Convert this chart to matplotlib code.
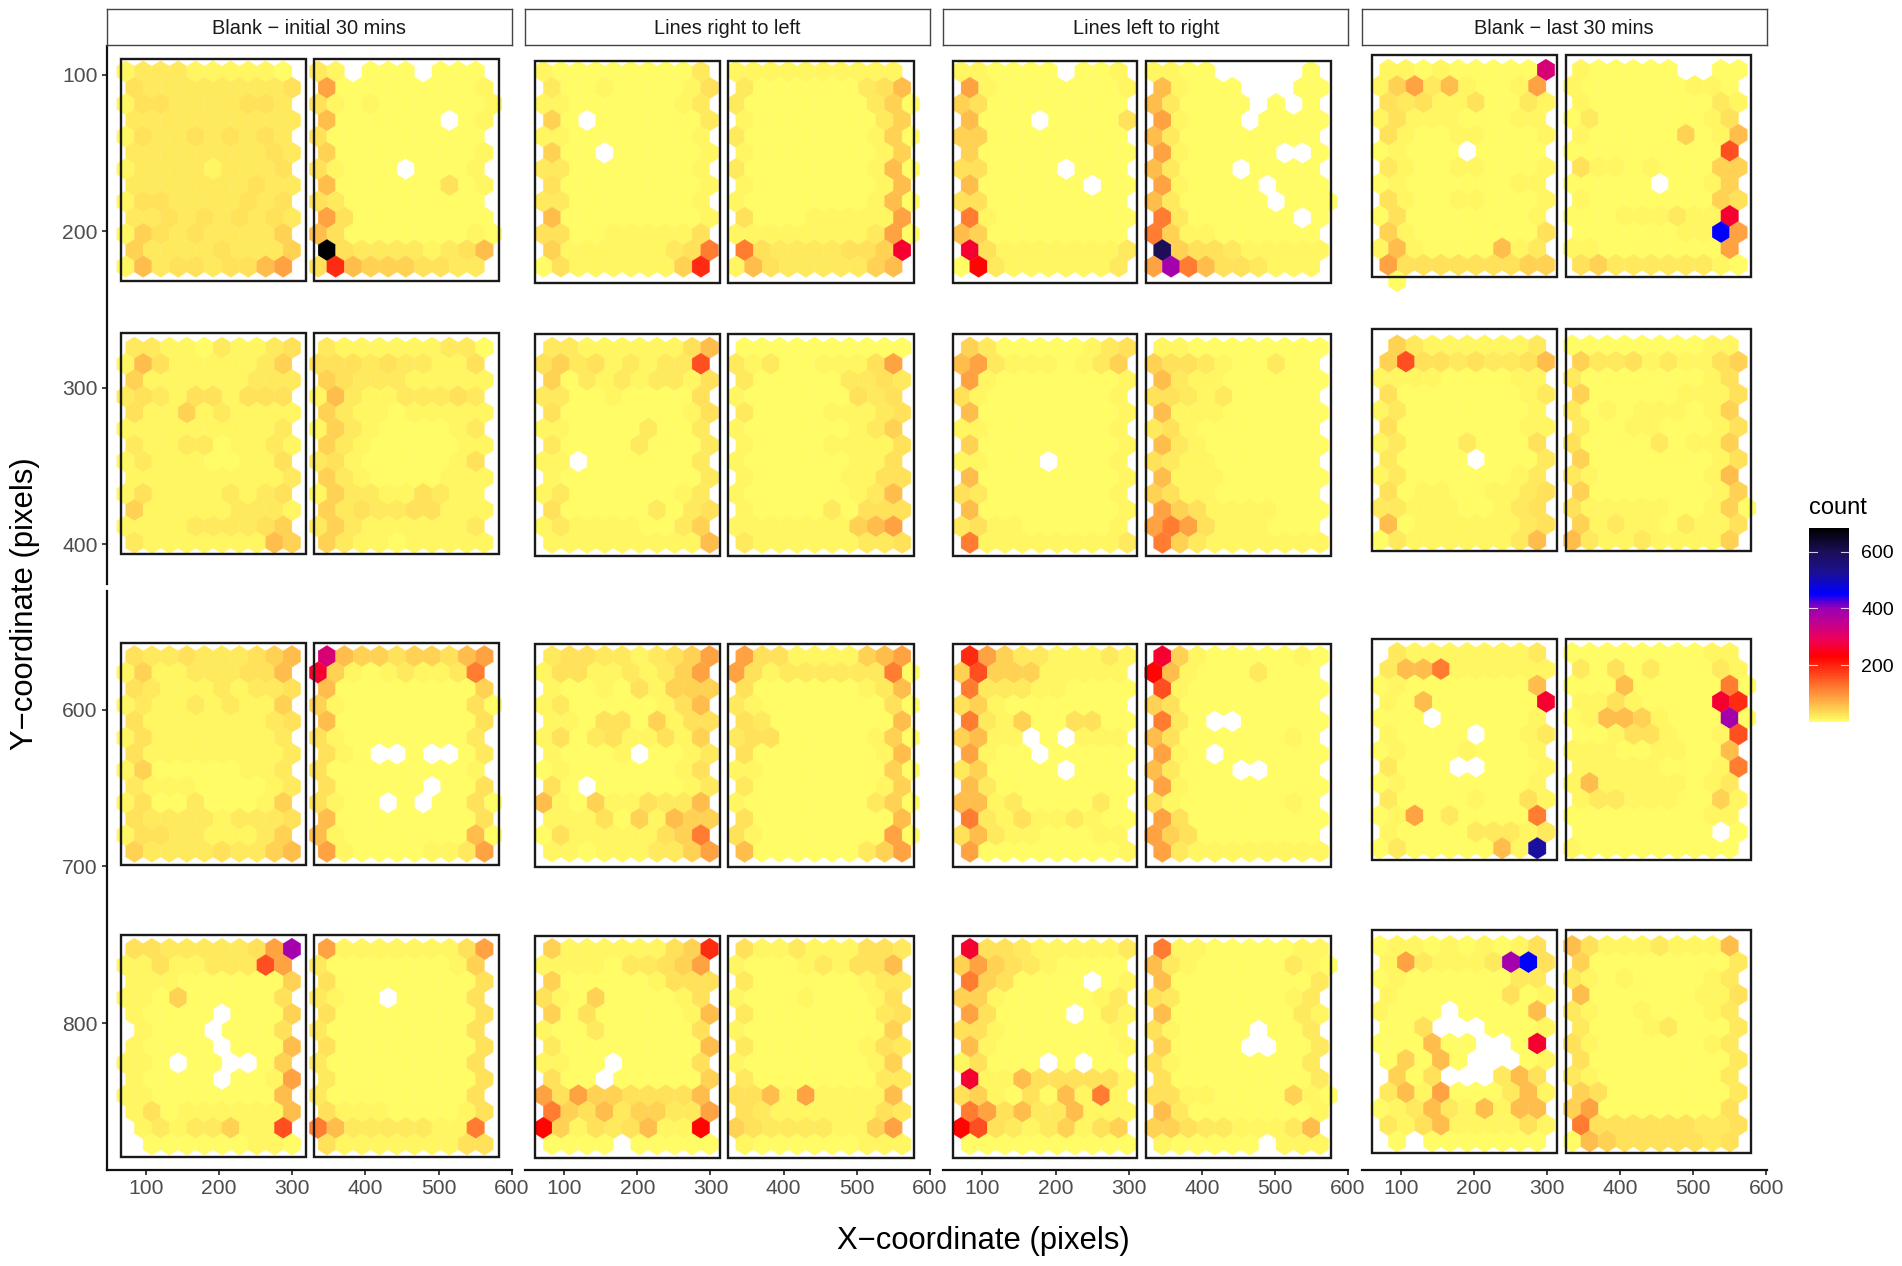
from __future__ import annotations

import matplotlib

matplotlib.use("Agg")
import matplotlib.pyplot as plt
import numpy as np
from matplotlib.cm import ScalarMappable
from matplotlib.collections import PolyCollection
from matplotlib.colors import LinearSegmentedColormap, Normalize
from matplotlib.patches import Rectangle

plt.rcParams["font.family"] = ["Liberation Sans", "DejaVu Sans"]
plt.rcParams["axes.unicode_minus"] = True

FACETS = ["Blank \u2212 initial 30 mins", "Lines right to left", "Lines left to right", "Blank \u2212 last 30 mins"]

# one character per hex cell; "." means no hex
LEVEL_CHARS = "0123456789abcdefgih"
LEVEL_COUNTS = [5, 10, 19, 29, 42, 60, 85, 118, 160, 190, 225, 262, 320, 385, 425, 453, 520, 600, 684]

# initial 30 mins
I1L = ["1222111110.", "3222222223.", "1332222332.", "2222222222.", "1322323232.", "2222222232.", "1222212223.",
       "2222222322.", "1332222323.", "2232323232.", "1432322224.", "4222232224.", "1523323356."]
I1R = ["21.000.000.", "6000000001.", "31010000001", "5000000.01.", "3000000000.", "4000000001.", "31000.0001.",
       "5000000301.", "3200000000.", "6300000000.", "53000000010", "h322221235.", "3954443322."]
I2L = ["2211021123.", "1531111124.", "4111111222.", "2321331333.", "3114121111.", "1111111112.", "2112201121.",
       "1211100113.", "1111111112.", "1311112123.", "4111112221.", "1111222234.", "2111111154."]
I2R = ["2111111220.", "3332322113.", "4322211111.", "1521122232.", "4211011111.", "1421000012.", "4210000011.",
       "2310000013.", "4210000111.", "1422113211.", "4232233111.", "2421111112.", "4211011111."]
I3L = ["3223222345.", "1411222335.", "3211121223.", "1211212114.", "3111111123.", "1311111112.", "3111111112.",
       "1400000112.", "2111000012.", "1300200014.", "3222212223.", "1332211124.", "4222232245."]
I3R = ["c544344356.", "b410121127.", "5000000004.", "41000000030", "5000000003.", "3100000002.", "310..0..02.",
       "3000000001.", "300000.003.", "3100.0.0030", "5000000003.", "51000000050", "6100001126."]
I4L = ["332222236d.", "1131122286.", "1110000004.", "1104000003.", "10000.0004.", ".1000.0003.", "10000.0005.",
       "110.00..04.", "10000.0016.", "1100000005.", "1301111115.", ".121224118.", ".000000110."]
I4R = ["6111111136.", "2000000014.", "3000000003.", "2100.00003.", "3000000003.", "2000000003.", "3000000003.",
       "2000000003.", "2000000003.", "2000000003.", "3111000013.", "7522222117.", "3111111133."]

# lines right to left
R1L = ["1000000002.", "2001000013.", "1100000012.", "40.0000002.", "1100000001.", "400.000001.", "2200000001.",
       "3000000001.", "2200000001.", "5000000001.", "3300111113.", "4111111237.", "0311111149."]
R1R = ["1111111111.", "2000000235.", "20000000240", "1000000024.", "20000000140", "1000000014.", "20000000150",
       "1000000015.", "10000000150", "3000111116.", "11111111260", "732222334b.", "1532222245."]
R2L = ["2211111135.", "3423121228.", "4021212213.", "2200100003.", "3000000013.", "1100002002.", "2000020002.",
       "11.0000002.", "1000000002.", "1200000012.", "3000002023.", "1211110024.", "1111111115."]
R2R = ["0000000000.", "2120011136.", "2000002232.", "1000000323.", "2000011123.", "1000000124.", "1000011113.",
       "1000000113.", "1000001133.", "1000000125.", "1000020333.", "1111111456.", "2111111223."]
R3L = ["2332212346.", "1331121246.", "1001031444.", "1200000135.", "1103304133.", "1302311314.", "10001.0012.",
       "0100000013.", "30.0000012.", "5104113225.", "1113041544.", "0311111347.", "1101112246."]
R3R = ["6331111456.", "63122222270", "3000000125.", "21000000030", "3200000005.", "23300000140", "3000000015.",
       "11000000040", "2000000014.", "10000000240", "3000000005.", "31000000060", "5000000246."]
R4L = ["4111111349.", "1111022346.", "4000001333.", "3104000013.", "4030000015.", "1002000003.", "2000000005.",
       "1100.00003.", "300.000004.", "6364433335.", "7435244226.", "a41323511a.", "0000.00000."]
R4R = ["3112111332.", "1000121335.", "2000000122.", "1000100013.", "2000000023.", "1000000004.", "2000000132.",
       "1000000014.", "2000000022.", "3351611115.", "3211111132.", "4322221146.", "1000000111."]

# lines left to right
L1L = ["110000.001.", "6100000001.", "4300000000.", "5000.00003.", "4400000000.", "4000000000.", "330000.000.",
       "5000000.00.", "3300000000.", "7100000000.", "5400000000.", "b311111112.", "0a21111112."]
L1R = ["1100.....0.", "51000...00.", "520000.0.0.", "61000.0000.", "5200000000.", "6100000..0.", "52000.0000.",
       "610000.000.", "5200000.000", "72000000.0.", "7411000000.", "i433211111.", "6d75332111."]
L2L = ["4200000123.", "5621110124.", "6100000001.", "3100000001.", "5000000001.", "1100000001.", "4000000001.",
       "11000.0001.", "5000000001.", "3200000001.", "5000000001.", "2311000001.", "7111111112."]
L2R = ["1100000000.", "4332100200.", "5211000000.", "3321200000.", "5111000000.", "2310000000.", "5210000000.",
       "3211000000.", "5111000000.", "4311000000.", "6431111000.", "6763111000.", "7421111111."]
L3L = ["9642211121.", "4844411111.", "7222110000.", "3410000000.", "7214003300.", "4511.0.111.", "6100.00000.",
       "240000.000.", "5200000000.", "5512000020.", "7213112100.", "3521100011.", "6000000001."]
L3R = ["b410000010.", "a510002000.", "8100000000.", "4300000000.", "720..00000.", "5300000010.", "610.000000.",
       "52000..000.", "6100000000.", "3100000010.", "6300000000.", "6430000000.", "6211111111."]
L4L = ["b332111112.", "4643210000.", "7430000.01.", "4410000012.", "630000.021.", "3310000001.", "5100000001.",
       "13000.0.00.", "b115333331.", "3410305171.", "7635225111.", "a832124134.", "0000000000."]
L4R = ["7110000011.", "52100000210", "5000000002.", "3200000012.", "5000000021.", "310000.002.", "40000..002.",
       "3100000002.", "3000000002.", "33110000410", "5200000001.", "4432211125.", "100000.111."]

# last 30 mins
E1L = ["110100000c.", "1462510016.", "3231130021.", "1311100011.", "3100110001.", "01000.0000.", "2100110001.",
       "0100000011.", "3100110001.", "0300000001.", "4100000003.", "1510000512.", "6333333344.", ".0........."]
E1R = ["100000..00.", "1000000110.", "1000000021.", "0200000013.", "1000004015.", "0000000008.", "3110100044.",
       "00000.0014.", "1000000043.", "000111211b.", "00000011f6.", "1100000006.", "3422222210."]
E2L = [".421111112.", "4833232235.", "1111000011.", "3000000012.", "1200000001.", "3000000011.", "1200020003.",
       "20000.0002.", "1200000012.", "3011001123.", "2211100123.", "5011111123.", "0211111125."]
E2R = ["0000000011.", "4223121134.", "2000000013.", "4000001113.", "2010111014.", "2001100013.", "3000020114.",
       "4000000013.", "2100000015.", "4000000014.", "31111100140", "4121102113.", "5211211114."]
E3L = [".211111112.", "2557111111.", "0100000005.", "105000000b.", "000.000001.", "10000.0012.", "0100010001.",
       "2000..0001.", "0100000001.", "2000010031.", "0160200007.", "1000022212.", "020000051g."]
E3R = ["0000000011.", "2030200021.", "00050000070", "11310000b9.", "015541000d0", "0013310018.", "1110011005.",
       "1111100017.", "1511111012.", "1221110041.", "0000000011.", "00000000.0.", "1000000000."]
E4L = ["0110101013.", "1621112df3.", "0100000022.", "1000000301.", "1000.00005.", "003...0001.", "000500..0b.",
       "04050...01.", ".403...253.", "2516000251.", "0125215155.", "2135111131.", ".0.0000000."]
E4R = ["5311121115.", "4000000002.", "2101000012.", "5000000113.", "2100100012.", "2000120002.", "3100000012.",
       "3000000002.", "2100000002.", "4300000002.", "4600000003.", "7333333223.", "0543333323."]

PANELS = [
    [[I1L, I1R], [I2L, I2R], [I3L, I3R], [I4L, I4R]],
    [[R1L, R1R], [R2L, R2R], [R3L, R3R], [R4L, R4R]],
    [[L1L, L1R], [L2L, L2R], [L3L, L3R], [L4L, L4R]],
    [[E1L, E1R], [E2L, E2R], [E3L, E3R], [E4L, E4R]],
]

# hex grid of each facet column
DX = 23.93
DY = 10.38
GRID_X0 = [72.2, 71.5, 70.9, 71.3]
GRID_Y0 = [
    [97.9, 274.4, 565.9, 752.7],
    [97.9, 274.4, 565.9, 752.7],
    [97.9, 274.4, 565.9, 752.7],
    [96.8, 273.0, 563.8, 750.8],
]
FIRST_ROW_SHIFTED = [
    [False, True, True, True],
    [False, True, True, True],
    [False, True, True, True],
    [True, False, False, False],
]

# black frames around the panels, in data units
FRAME_X = [
    [(65.4, 318.8), (330.2, 583.3)],
    [(59.8, 313.7), (324.6, 578.4)],
    [(59.2, 312.0), (323.9, 576.9)],
    [(60.5, 314.0), (325.4, 578.6)],
]
FRAME_Y = [
    [(90.0, 231.8), (264.8, 406.5), (557.4, 699.0), (743.8, 885.4)],
    [(91.0, 233.0), (265.9, 407.6), (558.0, 700.1), (744.2, 886.0)],
    [(91.0, 233.0), (265.9, 407.6), (558.0, 700.1), (744.2, 886.0)],
    [(87.2, 229.0), (262.3, 404.0), (554.8, 695.8), (740.6, 882.6)],
]

X_TICKS = [100, 200, 300, 400, 500, 600]
Y_TICKS_TOP = [100, 200, 300, 400]
Y_TICKS_BOTTOM = [600, 700, 800]
COUNT_TICKS = [200, 400, 600]

W, H = 1902, 1266
COLUMN_LEFT = [107.0, 525.2, 943.4, 1361.7]
COLUMN_WIDTH = 405.0
AXIS_GREY = "#4d4d4d"
LINE = "#111111"

# colour stops of the legend bar, red to blue runs through magenta and purple
CMAP = LinearSegmentedColormap.from_list(
    "count",
    [
        (0.0, "#ffff66"),
        (229 / 684, "#ff0000"),
        (290 / 684, "#ee0058"),
        (345 / 684, "#c4008e"),
        (400 / 684, "#9a00b4"),
        (453 / 684, "#0000ff"),
        (530 / 684, "#1c1090"),
        (600 / 684, "#1c0e58"),
        (1.0, "#000000"),
    ],
)
NORM = Normalize(0, 684)


def px_axes(fig, left, top, right, bottom):
    return fig.add_axes([left / W, 1 - bottom / H, (right - left) / W, (bottom - top) / H])


def hex_cells(rows, x0, y0, shifted):
    polys, counts = [], []
    half_w = DX / 2
    half_h = DY * 2 / 3
    for r, row in enumerate(rows):
        for c, ch in enumerate(row):
            if ch == ".":
                continue
            cx = x0 + DX * (c + (0.5 if (r % 2 == 0) == shifted else 0.0))
            cy = y0 + DY * r
            polys.append(
                [
                    (cx, cy - half_h),
                    (cx + half_w, cy - half_h / 2),
                    (cx + half_w, cy + half_h / 2),
                    (cx, cy + half_h),
                    (cx - half_w, cy + half_h / 2),
                    (cx - half_w, cy - half_h / 2),
                ]
            )
            counts.append(LEVEL_COUNTS[LEVEL_CHARS.index(ch)])
    return polys, counts


def style_axis(ax, show_left, show_bottom, y_ticks):
    for side in ("top", "right", "left", "bottom"):
        ax.spines[side].set_visible(False)
    ax.patch.set_alpha(0)
    ax.spines["left"].set_visible(show_left)
    ax.spines["bottom"].set_visible(show_bottom)
    ax.spines["left"].set_linewidth(1.6)
    ax.spines["bottom"].set_linewidth(1.6)
    ax.spines["left"].set_color(LINE)
    ax.spines["bottom"].set_color(LINE)
    ax.set_xticks(X_TICKS if show_bottom else [])
    ax.set_yticks(y_ticks if show_left else [])
    ax.tick_params(length=3.6, width=1.2, color="#222222", labelcolor=AXIS_GREY, labelsize=15.2, pad=3)


def draw_panels(ax, col, rows, row_ids):
    for row_id in row_ids:
        for side in range(2):
            x0 = GRID_X0[col] + DX * 11 * side
            polys, counts = hex_cells(PANELS[col][row_id][side], x0, GRID_Y0[col][row_id], FIRST_ROW_SHIFTED[col][row_id])
            hexes = PolyCollection(polys, array=np.asarray(counts, dtype=float), cmap=CMAP, norm=NORM,
                                   edgecolors="face", linewidths=0.25, zorder=2)
            ax.add_collection(hexes)
            (xa, xb), (ya, yb) = FRAME_X[col][side], FRAME_Y[col][row_id]
            ax.add_patch(Rectangle((xa, ya), xb - xa, yb - ya, fill=False, edgecolor="#1a1a1a", linewidth=1.7, zorder=3))


def main():
    fig = plt.figure(figsize=(W / 100, H / 100), dpi=100, facecolor="white")
    for col, left in enumerate(COLUMN_LEFT):
        right = left + COLUMN_WIDTH
        top_ax = px_axes(fig, left, 46, right, 584)
        top_ax.set_xlim(46.7, 600.5)
        top_ax.set_ylim(425.4, 81.5)
        draw_panels(top_ax, col, PANELS[col], [0, 1])
        style_axis(top_ax, col == 0, False, Y_TICKS_TOP)

        bottom_ax = px_axes(fig, left, 590.7, right, 1170)
        bottom_ax.set_xlim(46.7, 600.5)
        bottom_ax.set_ylim(893.7, 524.0)
        draw_panels(bottom_ax, col, PANELS[col], [2, 3])
        style_axis(bottom_ax, col == 0, True, Y_TICKS_BOTTOM)

        strip = px_axes(fig, left, 8.5, right, 45)
        strip.set_xticks([])
        strip.set_yticks([])
        strip.set_facecolor("white")
        for spine in strip.spines.values():
            spine.set_color("#444444")
            spine.set_linewidth(1.0)
        strip.text(0.5, 0.44, FACETS[col], transform=strip.transAxes, ha="center", va="center",
                   fontsize=14.4, color="#1a1a1a")

    fig.text(983 / W, 1 - 1241 / H, "X\u2212coordinate (pixels)", ha="center", va="center", fontsize=22.3, color="black")
    fig.text(25 / W, 1 - 604 / H, "Y\u2212coordinate (pixels)", ha="center", va="center", rotation=90,
             fontsize=22.3, color="black")

    cax = px_axes(fig, 1809.3, 528, 1848.7, 721.7)
    bar = fig.colorbar(ScalarMappable(norm=NORM, cmap=CMAP), cax=cax)
    bar.outline.set_visible(False)
    bar.set_ticks(COUNT_TICKS)
    bar.ax.tick_params(length=0, labelsize=14, labelcolor="black", pad=9)
    for value in COUNT_TICKS:
        cax.plot([0, 0.2], [value, value], color="white", linewidth=0.8, alpha=0.8, transform=cax.get_yaxis_transform())
        cax.plot([0.8, 1], [value, value], color="white", linewidth=0.8, alpha=0.8, transform=cax.get_yaxis_transform())
    fig.text(1809.5 / W, 1 - 508 / H, "count", ha="left", va="center", fontsize=17, color="black")

    fig.savefig("out.png", dpi=100, facecolor="white")
    plt.close(fig)


if __name__ == "__main__":
    main()
